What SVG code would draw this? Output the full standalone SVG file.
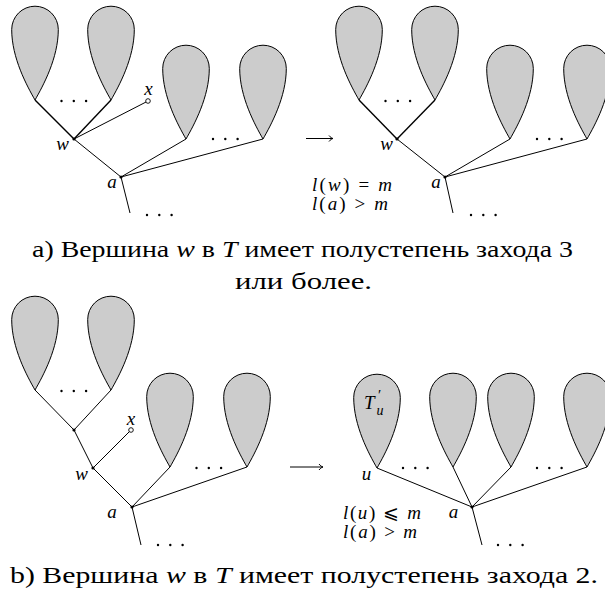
<svg xmlns="http://www.w3.org/2000/svg" xmlns:xlink="http://www.w3.org/1999/xlink" width="605" height="596" viewBox="0 0 605 596">
<style>
.leaf{fill:#cccccc;stroke:#000;stroke-width:1}
.e{stroke:#000;stroke-width:1;fill:none}
.eb{stroke:#000;stroke-width:1.4;fill:none}
.dot{fill:#000}
.open{fill:#fff;stroke:#000;stroke-width:0.9}
text{font-family:'Liberation Serif','Times New Roman',Times,'DejaVu Serif',serif;fill:#000}
.lbl{font-style:italic;font-size:19px}
.math{font-size:19px}
.cap{font-size:23px}
.i{font-style:italic}
</style>
<defs>
<path id="leaf" class="leaf" d="M0,0 C-8,-14 -23.3,-42 -23.3,-70.5 A23.3,23.3 0 0 1 23.3,-70.5 C23.3,-42 8,-14 0,0Z"/>
<g id="dots3"><circle cx="0" cy="0" r="1.2"/><circle cx="12.3" cy="0" r="1.2"/><circle cx="24.6" cy="0" r="1.2"/></g>
</defs>

<!-- Part a, left tree -->
<g id="a-left-leaves">
<use xlink:href="#leaf" x="35" y="100"/>
<use xlink:href="#leaf" x="111" y="100"/>
<use xlink:href="#leaf" x="186" y="139"/>
<use xlink:href="#leaf" x="263" y="139"/>
</g>
<g id="a-left-edges">
<line class="eb" x1="74" y1="139" x2="35" y2="100"/>
<line class="eb" x1="74" y1="139" x2="111" y2="100"/>
<line class="e" x1="74" y1="139" x2="148" y2="101"/>
<line class="e" x1="74" y1="139" x2="121" y2="177"/>
<line class="e" x1="121" y1="177" x2="186" y2="139"/>
<line class="e" x1="121" y1="177" x2="263" y2="139"/>
<line class="e" x1="121" y1="177" x2="130" y2="213"/>
</g>
<g id="a-left-nodes">
<circle class="dot" cx="74" cy="139" r="1.6"/>
<circle class="dot" cx="121" cy="177" r="1.6"/>
<circle class="open" cx="148" cy="101" r="2.3"/>
<use xlink:href="#dots3" x="61.5" y="101"/>
<use xlink:href="#dots3" x="213" y="139"/>
<use xlink:href="#dots3" x="147" y="215"/>
<text class="lbl" x="148.5" y="95" text-anchor="middle">x</text>
<text class="lbl" x="62.5" y="150" text-anchor="middle">w</text>
<text class="lbl" x="112" y="188" text-anchor="middle">a</text>
</g>

<!-- arrow a -->
<g id="arrow-a">
<line class="e" x1="306" y1="138.5" x2="333" y2="138.5"/>
<path class="e" d="M329,135.5 C330.5,137.5 332,138.2 333,138.5 C332,138.8 330.5,139.5 329,141.5"/>
</g>

<!-- Part a, right tree -->
<g id="a-right-leaves">
<use xlink:href="#leaf" x="359" y="100"/>
<use xlink:href="#leaf" x="435" y="100"/>
<use xlink:href="#leaf" x="510" y="139"/>
<use xlink:href="#leaf" x="587" y="139"/>
</g>
<g id="a-right-edges">
<line class="eb" x1="397" y1="139" x2="359" y2="100"/>
<line class="eb" x1="397" y1="139" x2="435" y2="100"/>
<line class="e" x1="397" y1="139" x2="445" y2="177"/>
<line class="e" x1="445" y1="177" x2="510" y2="139"/>
<line class="e" x1="445" y1="177" x2="587" y2="139"/>
<line class="e" x1="445" y1="177" x2="453" y2="213"/>
</g>
<g id="a-right-nodes">
<circle class="dot" cx="397" cy="139" r="1.6"/>
<circle class="dot" cx="445" cy="177" r="1.6"/>
<use xlink:href="#dots3" x="385.5" y="101"/>
<use xlink:href="#dots3" x="537" y="139"/>
<use xlink:href="#dots3" x="471" y="215"/>
<text class="lbl" x="386.5" y="150" text-anchor="middle">w</text>
<text class="lbl" x="436" y="188" text-anchor="middle">a</text>
<text class="math" x="312" y="191" textLength="80" lengthAdjust="spacing"><tspan class="i">l</tspan>(<tspan class="i">w</tspan>) = <tspan class="i">m</tspan></text>
<text class="math" x="312" y="210" textLength="76" lengthAdjust="spacing"><tspan class="i">l</tspan>(<tspan class="i">a</tspan>) &gt; <tspan class="i">m</tspan></text>
</g>

<g id="caption-a">
<text class="cap" x="32" y="257" textLength="541" lengthAdjust="spacingAndGlyphs">a) Вершина <tspan class="i">w</tspan> в <tspan class="i">T</tspan> имеет полустепень захода 3</text>
<text class="cap" x="235" y="289" textLength="137" lengthAdjust="spacingAndGlyphs">или более.</text>
</g>

<!-- Part b, left tree -->
<g id="b-left-leaves">
<use xlink:href="#leaf" x="35" y="390"/>
<use xlink:href="#leaf" x="111" y="390"/>
<use xlink:href="#leaf" x="170" y="467"/>
<use xlink:href="#leaf" x="247" y="467"/>
</g>
<g id="b-left-edges">
<line class="e" x1="74" y1="430" x2="35" y2="390"/>
<line class="e" x1="74" y1="430" x2="111" y2="390"/>
<line class="e" x1="74" y1="430" x2="93" y2="468"/>
<line class="e" x1="93" y1="468" x2="131" y2="430"/>
<line class="e" x1="93" y1="468" x2="132" y2="507"/>
<line class="e" x1="132" y1="507" x2="170" y2="467"/>
<line class="e" x1="132" y1="507" x2="247" y2="467"/>
<line class="e" x1="132" y1="507" x2="141" y2="545"/>
</g>
<g id="b-left-nodes">
<circle class="dot" cx="74" cy="430" r="1.6"/>
<circle class="dot" cx="93" cy="468" r="1.6"/>
<circle class="dot" cx="132" cy="507" r="1.6"/>
<circle class="open" cx="131" cy="430" r="2.3"/>
<use xlink:href="#dots3" x="61.5" y="391"/>
<use xlink:href="#dots3" x="196.5" y="468"/>
<use xlink:href="#dots3" x="158" y="545"/>
<text class="lbl" x="131" y="425" text-anchor="middle">x</text>
<text class="lbl" x="81.5" y="480" text-anchor="middle">w</text>
<text class="lbl" x="112" y="518" text-anchor="middle">a</text>
</g>

<!-- arrow b -->
<g id="arrow-b">
<line class="e" x1="290" y1="467" x2="323" y2="467"/>
<path class="e" d="M319,464 C320.5,466 322,466.7 323,467 C322,467.3 320.5,468 319,470"/>
</g>

<!-- Part b, right tree -->
<g id="b-right-leaves">
<use xlink:href="#leaf" x="377" y="468"/>
<use xlink:href="#leaf" x="453" y="467"/>
<use xlink:href="#leaf" x="511" y="467"/>
<use xlink:href="#leaf" x="587" y="467"/>
</g>
<g id="b-right-edges">
<line class="e" x1="377" y1="468" x2="472" y2="507"/>
<line class="e" x1="453" y1="467" x2="472" y2="507"/>
<line class="e" x1="511" y1="467" x2="472" y2="507"/>
<line class="e" x1="587" y1="467" x2="472" y2="507"/>
<line class="e" x1="472" y1="507" x2="482" y2="545"/>
</g>
<g id="b-right-nodes">
<circle class="dot" cx="472" cy="507" r="1.6"/>
<use xlink:href="#dots3" x="403" y="468"/>
<use xlink:href="#dots3" x="537" y="468"/>
<use xlink:href="#dots3" x="498" y="545"/>
<text class="lbl" x="364" y="409">T<tspan font-style="normal" style="font-size:15px" x="378" y="400">′</tspan><tspan style="font-size:14px" x="376.5" y="415">u</tspan></text>
<text class="lbl" x="366.5" y="480" text-anchor="middle">u</text>
<text class="lbl" x="453.5" y="518" text-anchor="middle">a</text>
<text class="math" x="343" y="519" textLength="78" lengthAdjust="spacing"><tspan class="i">l</tspan>(<tspan class="i">u</tspan>) ⩽ <tspan class="i">m</tspan></text>
<text class="math" x="343" y="538" textLength="74" lengthAdjust="spacing"><tspan class="i">l</tspan>(<tspan class="i">a</tspan>) &gt; <tspan class="i">m</tspan></text>
</g>

<g id="caption-b">
<text class="cap" x="10" y="583" textLength="588" lengthAdjust="spacingAndGlyphs">b) Вершина <tspan class="i">w</tspan> в <tspan class="i">T</tspan> имеет полустепень захода 2.</text>
</g>
</svg>
